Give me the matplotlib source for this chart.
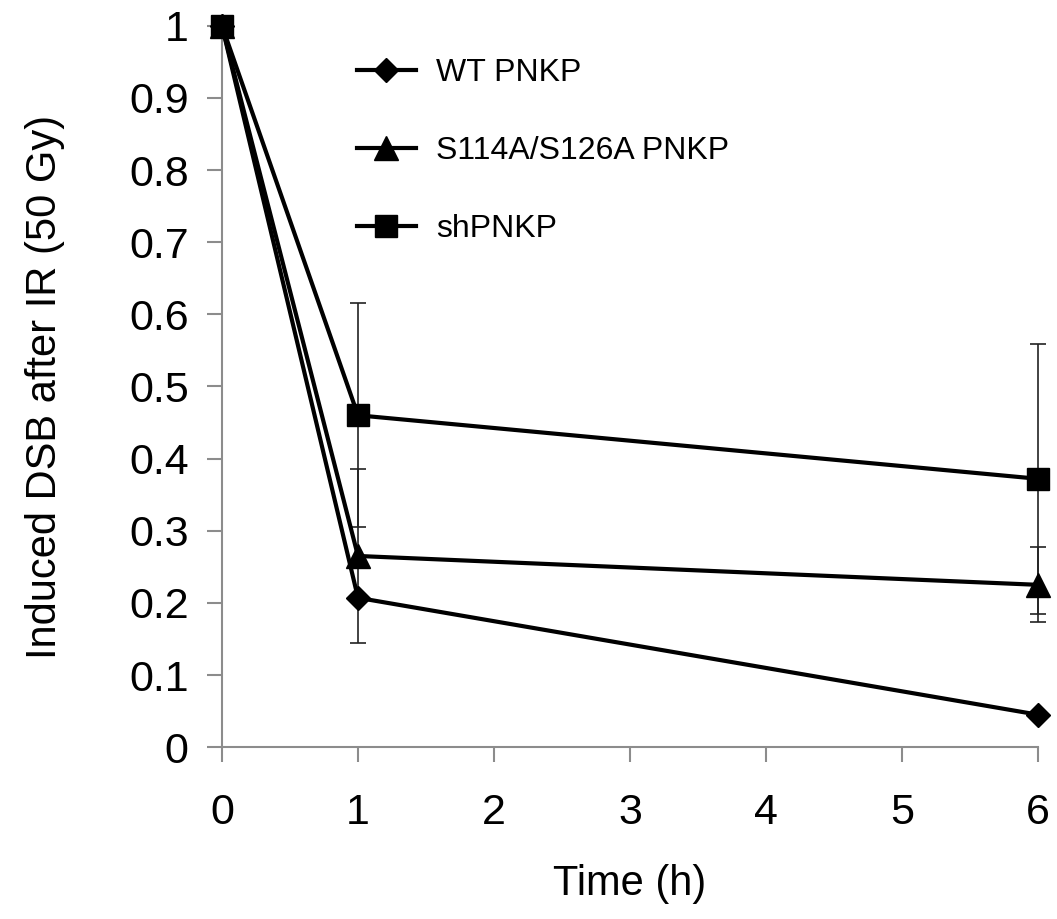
import matplotlib
matplotlib.use("Agg")
import matplotlib.pyplot as plt

plt.rcParams["font.family"] = ["Liberation Sans", "DejaVu Sans"]

times = [0, 1, 6]
wt = [1.0, 0.207, 0.045]
mut = [1.0, 0.265, 0.225]
sh = [1.0, 0.46, 0.372]
mut_err = [0, 0.12, 0.052]
sh_err = [0, 0.155, 0.187]
yticks = [0, 0.1, 0.2, 0.3, 0.4, 0.5, 0.6, 0.7, 0.8, 0.9, 1]
ylabels = ["0", "0.1", "0.2", "0.3", "0.4", "0.5", "0.6", "0.7", "0.8", "0.9", "1"]

fig = plt.figure(figsize=(10.57, 9.19), dpi=100)
ax = fig.add_axes([0.21, 0.187, 0.772, 0.785])

ekw = dict(fmt="none", ecolor="#222222", elinewidth=1.2, capsize=5.5, capthick=1.2, clip_on=False, zorder=2)
ax.errorbar(times, sh, yerr=sh_err, **ekw)
ax.errorbar(times, mut, yerr=mut_err, **ekw)

lkw = dict(color="black", lw=3.0, clip_on=False, zorder=3)
ax.plot(times, wt, marker="D", ms=12, label="WT PNKP", **lkw)
ax.plot(times, mut, marker="^", ms=17, label="S114A/S126A PNKP", **lkw)
ax.plot(times, sh, marker="s", ms=16, label="shPNKP", **lkw)

ax.set_xlim(0, 6)
ax.set_ylim(0, 1)
ax.set_xticks(range(7))
ax.set_yticks(yticks)
ax.set_yticklabels(ylabels)
for s in ["top", "right"]:
    ax.spines[s].set_visible(False)
for s in ["left", "bottom"]:
    ax.spines[s].set_color("#8c8c8c")
    ax.spines[s].set_linewidth(1.5)
ax.tick_params(axis="both", colors="#8c8c8c", length=11, width=1.5, labelsize=31,
               labelcolor="black")
ax.tick_params(axis="x", pad=22)
ax.tick_params(axis="y", pad=13)
ax.set_xlabel("Time (h)", fontsize=30, labelpad=22)
ax.set_ylabel("Induced DSB after IR (50 Gy)", fontsize=30, labelpad=46)

ax.legend(loc="upper left", bbox_to_anchor=(0.165, 0.955), frameon=False,
          fontsize=23, handlelength=1.85, handletextpad=0.65, labelspacing=1.5,
          borderpad=0, borderaxespad=0)

fig.savefig("out.png", dpi=100)
